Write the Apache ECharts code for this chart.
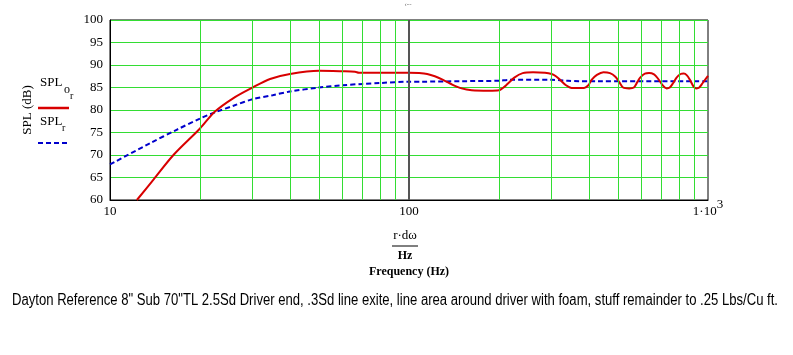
<!DOCTYPE html>
<html>
<head>
<meta charset="utf-8">
<script src="https://cdn.jsdelivr.net/npm/echarts@6/dist/echarts.min.js"></script>
<style>html,body{margin:0;padding:0;background:#fff;}#c{width:793px;height:355px;}</style>
</head>
<body>
<div id="c"></div>
<script>
// Frequency (Hz) / SPL (dB) pairs
const splOrFreq = [12.3,14,16.3,20,22.4,25.8,30,34.3,40,50,60,66,68,100,108,115,122,130,140,150,162,185,200,206,212,225,240,260,285,300,310,320,335,350,385,398,408,425,447,470,490,505,520,545,565,580,593,615,635,660,680,705,727,745,765,785,810,830,850,870,895,915,935,960,1000];
const splOrVal  = [60,64.6,70,75.9,79.6,82.6,85.0,86.9,88.0,88.7,88.6,88.5,88.3,88.3,88.2,88.0,87.5,86.7,85.6,84.8,84.4,84.3,84.4,84.9,85.6,87.2,88.2,88.4,88.3,88.0,87.5,86.7,85.5,84.9,84.9,85.5,86.7,87.8,88.4,88.2,87.4,86.2,85.0,84.8,85.0,86.2,87.2,88.1,88.2,87.9,87.0,85.5,84.8,85.0,86.0,87.2,88.0,88.1,87.7,86.7,85.2,84.8,85.0,86.0,87.6];
const splRFreq  = [10,13.6,16.7,20,22.7,26,30,35,40,50,60,70,80,100,110,150,200,215,300,340,370,1000];
const splRVal   = [67.9,72.6,75.6,78.1,79.6,81.0,82.4,83.3,84.1,85.0,85.5,85.8,86.0,86.3,86.3,86.4,86.5,86.7,86.7,86.5,86.4,86.4];
const minorGridFreqs = [20,30,40,50,60,70,80,90,200,300,400,500,600,700,800,900];
const yTicks = [60,65,70,75,80,85,90,95,100];
const caption = 'Dayton Reference 8" Sub 70"TL 2.5Sd Driver end, .3Sd line exite, line area around driver with foam, stuff remainder to .25 Lbs/Cu ft.';

const serif = "'Liberation Serif','Times New Roman',serif";
const chart = echarts.init(document.getElementById('c'), null, {renderer:'canvas'});

const capFont = "16px 'Liberation Sans'";
const ctx = document.createElement('canvas').getContext('2d');
ctx.font = capFont;
const capScale = 766 / ctx.measureText(caption).width;

const gridLines = minorGridFreqs.map(f => ({xAxis: f, lineStyle:{color:'#33dd33', width:1, type:'solid'}}));
gridLines.push({xAxis: 100, lineStyle:{color:'#555555', width:2, type:'solid'}});

chart.setOption({
  animation:false,
  backgroundColor:'#ffffff',
  grid:{left:110, right:85, top:20, bottom:155, show:true, borderColor:'#000', borderWidth:1, backgroundColor:'transparent'},
  xAxis:{
    type:'log', logBase:10, min:10, max:1000,
    axisLine:{show:true, lineStyle:{color:'#000', width:1}},
    axisTick:{show:false},
    splitLine:{show:false},
    axisLabel:{
      margin:-2, color:'#000', fontFamily:serif, fontSize:13,
      formatter:function(v){ const r=Math.round(v); return r===1000 ? '{b|1·10}{s|3}' : '{b|'+r+'}'; },
      rich:{
        b:{fontFamily:serif, fontSize:13, color:'#000', padding:[7,0,0,0]},
        s:{fontFamily:serif, fontSize:13, color:'#000', verticalAlign:'top'}
      }
    }
  },
  yAxis:{
    type:'value', min:yTicks[0], max:yTicks[yTicks.length-1], interval:5,
    axisLine:{show:true, lineStyle:{color:'#000', width:1}},
    axisTick:{show:false},
    splitLine:{show:true, lineStyle:{color:'#33dd33', width:1}},
    axisLabel:{margin:7, color:'#000', fontFamily:serif, fontSize:13}
  },
  series:[
    {type:'line', data:[], z:1, silent:true,
     markLine:{silent:true, symbol:'none', label:{show:false}, animation:false, data:gridLines}},
    {name:'SPL_r', type:'line', z:3, showSymbol:false, smooth:0.3,
     data:splRFreq.map((f,i)=>[f,splRVal[i]]),
     lineStyle:{color:'#0000cc', width:2, type:[5,3]}},
    {name:'SPL_or', type:'line', z:4, showSymbol:false, smooth:0.3,
     data:splOrFreq.map((f,i)=>[f,splOrVal[i]]),
     lineStyle:{color:'#d80000', width:2}}
  ],
  graphic:[
    {type:'text', x:408, y:4, style:{text:'‹--', font:"7px "+serif, fill:'#666', align:'center', verticalAlign:'middle'}},
    {type:'text', x:28, y:110, rotation:Math.PI/2, style:{text:'SPL (dB)', font:"13px "+serif, fill:'#000', align:'center', verticalAlign:'middle'}},
    {type:'text', x:40, y:83, style:{text:'SPL', font:"13px "+serif, fill:'#000', align:'left', verticalAlign:'middle'}},
    {type:'text', x:64, y:90, style:{text:'o', font:"12px "+serif, fill:'#000', align:'left', verticalAlign:'middle'}},
    {type:'text', x:70, y:96, style:{text:'r', font:"10px "+serif, fill:'#000', align:'left', verticalAlign:'middle'}},
    {type:'line', shape:{x1:38, y1:108, x2:69, y2:108}, style:{stroke:'#d80000', lineWidth:2.5}},
    {type:'text', x:40, y:122, style:{text:'SPL', font:"13px "+serif, fill:'#000', align:'left', verticalAlign:'middle'}},
    {type:'text', x:62, y:128, style:{text:'r', font:"10px "+serif, fill:'#000', align:'left', verticalAlign:'middle'}},
    {type:'line', shape:{x1:38, y1:143, x2:67, y2:143}, style:{stroke:'#0000cc', lineWidth:2, lineDash:[5,3]}},
    {type:'text', x:405, y:236, style:{text:'r·dω', font:"13px "+serif, fill:'#000', align:'center', verticalAlign:'middle'}},
    {type:'line', shape:{x1:392, y1:246, x2:418, y2:246}, style:{stroke:'#000', lineWidth:1}},
    {type:'text', x:405, y:256, style:{text:'Hz', font:"bold 12px "+serif, fill:'#000', align:'center', verticalAlign:'middle'}},
    {type:'text', x:409, y:272, style:{text:'Frequency (Hz)', font:"bold 12px "+serif, fill:'#000', align:'center', verticalAlign:'middle'}},
    {type:'text', x:12, y:301, scaleX:capScale, style:{text:caption, font:capFont, fill:'#000', align:'left', verticalAlign:'middle'}}
  ]
});
</script>
</body>
</html>
